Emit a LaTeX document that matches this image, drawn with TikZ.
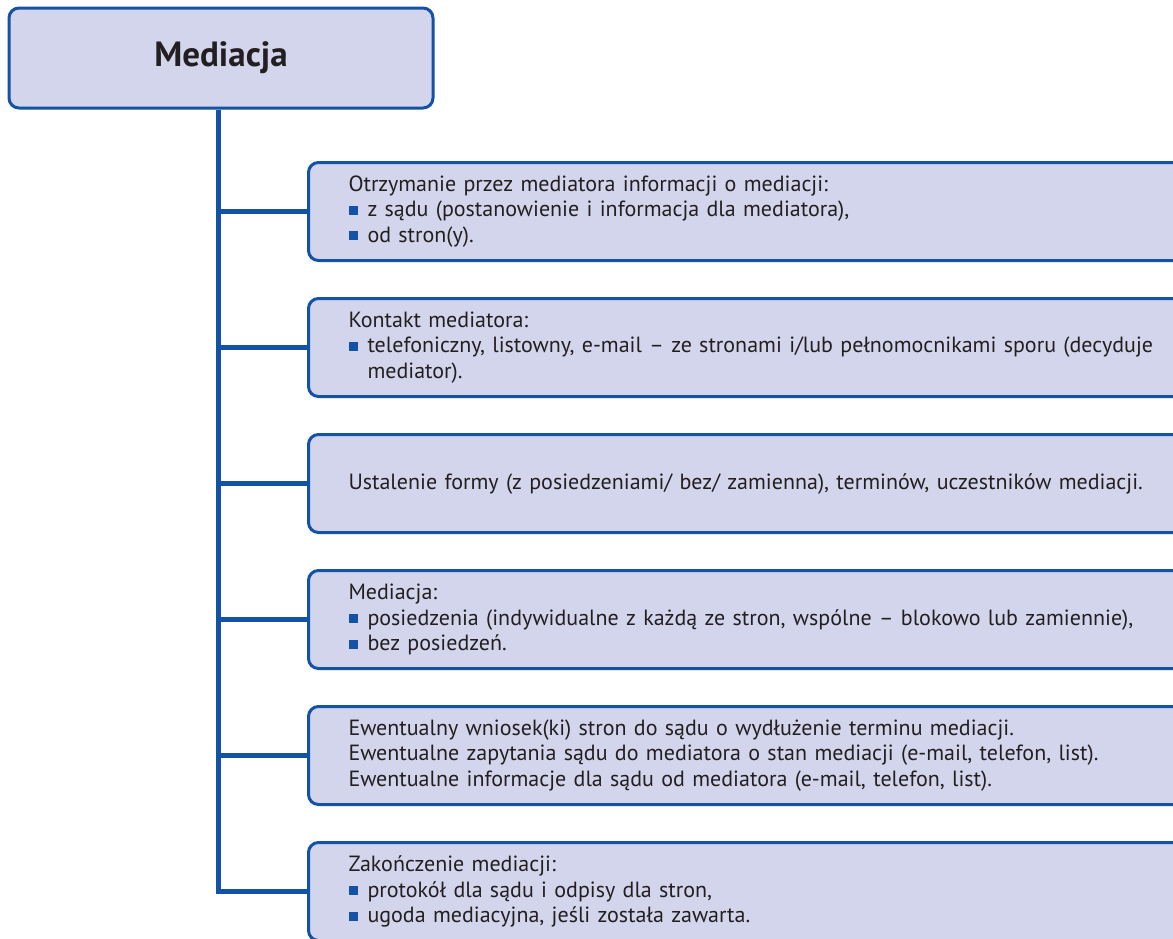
\documentclass[tikz,border=0pt]{standalone}
\usepackage{fontspec}
\setmainfont{PT Sans}
\usetikzlibrary{positioning}

\definecolor{boxfill}{HTML}{D3D5EC}
\definecolor{boxline}{HTML}{1352A5}
\definecolor{textdark}{HTML}{231F20}
% blue square bullet
\newcommand{\kw}{{\color{boxline}\rule[2pt]{9pt}{9pt}}\hspace{10pt}}

\begin{document}
\begin{tikzpicture}[x=1pt,y=-1pt,
    rootbox/.style={draw=boxline, fill=boxfill, line width=3pt, rounded corners=10pt,
      minimum width=424pt, minimum height=100pt, text=textdark,
      font=\fontsize{35}{40}\selectfont\bfseries},
    stepbox/.style={draw=boxline, fill=boxfill, line width=3pt, rounded corners=10pt,
      minimum height=98pt, text width=860pt, inner xsep=40pt, inner ysep=0pt,
      align=left, text=textdark, font=\fontsize{22}{25.5}\selectfont},
    link/.style={draw=boxline, line width=5pt},
    node distance=35pt]
    \useasboundingbox (0,0) rectangle (1173,938);

    % Title box
    \node[rootbox] (root) at (221,58) {Mediacja};

    % Steps
    \node[stepbox, anchor=north west] (s1) at (307,161)
      {Otrzymanie przez mediatora informacji o mediacji:\\
       \kw z sądu (postanowienie i informacja dla mediatora),\\
       \kw od stron(y).};
    \node[stepbox, below=of s1] (s2)
      {Kontakt mediatora:\\
       \kw telefoniczny, listowny, e-mail – ze stronami i/lub pełnomocnikami sporu (decyduje\\
       \hspace*{19pt}mediator).};
    \node[stepbox, below=of s2] (s3)
      {Ustalenie formy (z posiedzeniami/ bez/ zamienna), terminów, uczestników mediacji.};
    \node[stepbox, below=of s3] (s4)
      {Mediacja:\\
       \kw posiedzenia (indywidualne z każdą ze stron, wspólne – blokowo lub zamiennie),\\
       \kw bez posiedzeń.};
    \node[stepbox, below=of s4] (s5)
      {Ewentualny wniosek(ki) stron do sądu o wydłużenie terminu mediacji.\\
       Ewentualne zapytania sądu do mediatora o stan mediacji (e-mail, telefon, list).\\
       Ewentualne informacje dla sądu od mediatora (e-mail, telefon, list).};
    \node[stepbox, below=of s5] (s6)
      {Zakończenie mediacji:\\
       \kw protokół dla sądu i odpisy dla stron,\\
       \kw ugoda mediacyjna, jeśli została zawarta.};

    % Spine and branches
    \coordinate (spine) at ([xshift=-3pt]root.south);
    \draw[link] (spine) |- (s6.west);
    \foreach \s in {s1,s2,s3,s4,s5}
        \draw[link] (spine |- \s.west) -- (\s.west);
\end{tikzpicture}
\end{document}
